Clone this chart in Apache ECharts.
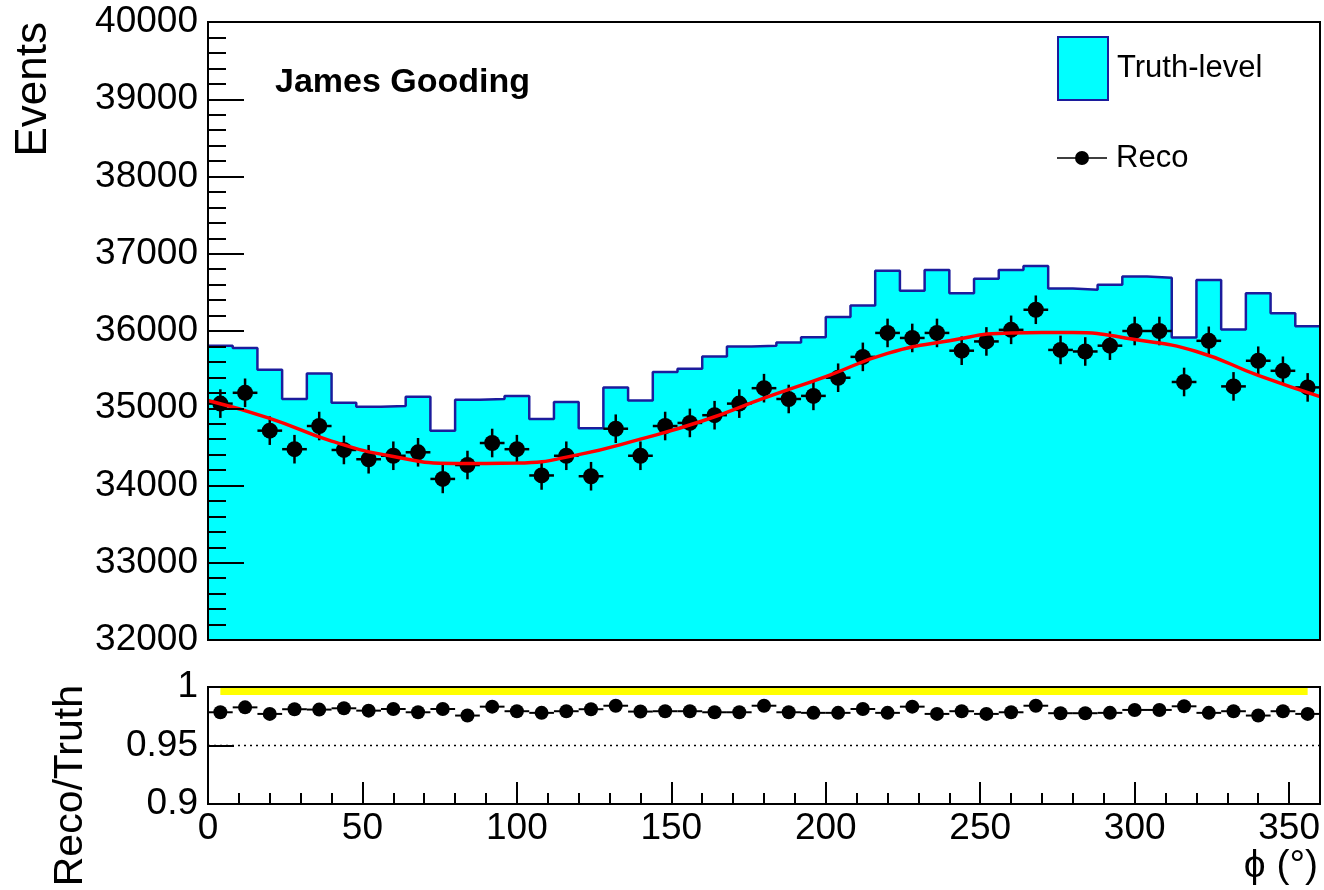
<!DOCTYPE html>
<html>
<head>
<meta charset="utf-8">
<script src="https://cdn.jsdelivr.net/npm/echarts@6/dist/echarts.min.js"></script>
<style>
html,body{margin:0;padding:0;background:#fff;}
#chart{width:1324px;height:890px;}
</style>
</head>
<body>
<div id="chart"></div>
<script>
// ---- data ----
const binCenters = [4,12,20,28,36,44,52,60,68,76,84,92,100,108,116,124,132,140,148,156,164,172,180,188,196,204,212,220,228,236,244,252,260,268,276,284,292,300,308,316,324,332,340,348,356];
const binHalfWidth = 4;
const truthVals = [35810,35780,35500,35120,35450,35070,35020,35030,35150,34710,35110,35120,35160,34860,35080,34740,35270,35100,35470,35510,35670,35800,35810,35850,35920,36180,36330,36780,36520,36790,36490,36675,36790,36840,36550,36535,36600,36705,36690,35915,36660,36020,36490,36230,36060];
const recoVals = [35060,35200,34710,34470,34770,34460,34340,34385,34430,34085,34265,34550,34470,34130,34385,34120,34735,34385,34770,34810,34910,35060,35260,35120,35160,35395,35665,35975,35910,35975,35745,35865,36015,36275,35755,35735,35810,36000,36000,35340,35873,35283,35615,35485,35270];
const recoErr = 185;
const fitPhi = [0,20,40,60,80,100,120,140,160,180,200,220,240,260,280,300,320,340,360];
const fitVals = [35100,34870,34575,34375,34285,34290,34400,34600,34835,35130,35410,35710,35875,35975,35980,35890,35735,35425,35150];
const ratioVals = [0.9784,0.9826,0.9770,0.9810,0.9807,0.9818,0.9798,0.9812,0.9784,0.9812,0.9756,0.9832,0.9793,0.9779,0.9793,0.9810,0.9840,0.9790,0.9793,0.9793,0.9784,0.9784,0.9840,0.9784,0.9779,0.9779,0.9812,0.9779,0.9832,0.9770,0.9793,0.9770,0.9784,0.9840,0.9776,0.9776,0.9779,0.9804,0.9804,0.9835,0.9779,0.9793,0.9756,0.9793,0.9770];
const refBandPhi = [4,356];
const refBandVal = 0.9966;
const refLineVal = 0.95;

// ---- build series data ----
const truthStep = binCenters.map((c,i)=>[c-binHalfWidth, truthVals[i]]);
truthStep.push([binCenters[binCenters.length-1]+binHalfWidth, truthVals[truthVals.length-1]]);
const recoPts = binCenters.map((c,i)=>[c, recoVals[i]]);
const recoErrData = binCenters.map((c,i)=>[c, recoVals[i], recoErr, binHalfWidth]);
const fitData = fitPhi.map((p,i)=>[p, fitVals[i]]);
const ratioPts = binCenters.map((c,i)=>[c, ratioVals[i]]);
const ratioErrData = binCenters.map((c,i)=>[c, ratioVals[i], 0, binHalfWidth]);

const FONT = 'Liberation Sans, Arial, Helvetica, sans-serif';
const BLACK = '#000';

function errRender(lw){
  return function(params, api){
    const x = api.value(0), y = api.value(1), e = api.value(2), hw = api.value(3);
    const c = api.coord([x,y]);
    const l = api.coord([x-hw,y]);
    const r = api.coord([x+hw,y]);
    const children = [{type:'line', shape:{x1:l[0],y1:c[1],x2:r[0],y2:c[1]}, style:{stroke:BLACK,lineWidth:lw}}];
    if (e > 0) {
      const t = api.coord([x,y+e]);
      const b = api.coord([x,y-e]);
      children.push({type:'line', shape:{x1:c[0],y1:t[1],x2:c[0],y2:b[1]}, style:{stroke:BLACK,lineWidth:lw}});
    }
    return {type:'group', children:children};
  };
}

const chart = echarts.init(document.getElementById('chart'), null, {renderer:'canvas'});
const option = {
  animation:false,
  backgroundColor:'#fff',
  textStyle:{fontFamily:FONT},
  grid:[
    {left:208, top:22, width:1112, height:618, show:true, borderColor:BLACK, borderWidth:2, backgroundColor:'transparent', z:10},
    {left:208, top:687, width:1112, height:117, show:true, borderColor:BLACK, borderWidth:2, backgroundColor:'transparent', z:10}
  ],
  xAxis:[
    {gridIndex:0, type:'value', min:0, max:360, interval:50, axisLine:{show:false}, axisTick:{show:false}, axisLabel:{show:false}, splitLine:{show:false}},
    {gridIndex:1, type:'value', min:0, max:360, interval:50, z:10,
     axisLine:{show:false},
     axisTick:{inside:true, length:22, lineStyle:{color:BLACK, width:2}},
     minorTick:{show:true, splitNumber:5, length:11, lineStyle:{color:BLACK, width:2}},
     axisLabel:{fontSize:37, color:BLACK, fontFamily:FONT, margin:6, showMaxLabel:false, formatter:v=>String(v)},
     splitLine:{show:false}}
  ],
  yAxis:[
    {gridIndex:0, type:'value', min:32000, max:40000, interval:1000, z:10,
     axisLine:{show:false},
     axisTick:{inside:true, length:36, lineStyle:{color:BLACK, width:2}},
     minorTick:{show:true, splitNumber:5, length:18, lineStyle:{color:BLACK, width:2}},
     axisLabel:{fontSize:37, color:BLACK, fontFamily:FONT, margin:10, formatter:v=>String(Math.round(v))},
     splitLine:{show:false}},
    {gridIndex:1, type:'value', min:0.9, max:1.0, interval:0.05, z:10,
     axisLine:{show:false},
     axisTick:{inside:true, length:26, lineStyle:{color:BLACK, width:2}},
     axisLabel:{fontSize:37, color:BLACK, fontFamily:FONT, margin:10, formatter:v=>String(+(+v).toFixed(2))},
     splitLine:{show:false}}
  ],
  legend:[
    {left:1052, top:31, orient:'vertical', itemWidth:50, itemHeight:63, selectedMode:false,
     textStyle:{fontSize:31, color:BLACK, fontFamily:FONT, lineHeight:40, padding:[0,0,0,4]},
     data:[{name:'Truth-level', icon:'rect', itemStyle:{color:'#00ffff', borderColor:'#1c1c9c', borderWidth:2}}]},
    {left:1052, top:133, orient:'vertical', itemWidth:50, itemHeight:15, selectedMode:false,
     textStyle:{fontSize:31, color:BLACK, fontFamily:FONT, lineHeight:40, padding:[0,0,0,4]},
     data:[{name:'Reco', icon:'path://M0,6.7L50,6.7L50,8.3L0,8.3Z M18,7.5A7,7,0,1,1,32,7.5A7,7,0,1,1,18,7.5Z', itemStyle:{color:BLACK}}]}
  ],
  series:[
    {name:'Truth-level', type:'line', xAxisIndex:0, yAxisIndex:0, step:'end', data:truthStep, symbol:'none', z:1,
     lineStyle:{color:'#1c1c9c', width:2.5}, itemStyle:{color:'#00ffff'},
     areaStyle:{color:'#00ffff', opacity:1, origin:'start'}},
    {name:'RecoErr', type:'custom', xAxisIndex:0, yAxisIndex:0, data:recoErrData, renderItem:errRender(2.5), z:3, silent:true},
    {name:'Reco', type:'scatter', xAxisIndex:0, yAxisIndex:0, data:recoPts, symbol:'circle', symbolSize:16, itemStyle:{color:BLACK, opacity:1}, z:4},
    {name:'Fit', type:'line', xAxisIndex:0, yAxisIndex:0, data:fitData, smooth:true, symbol:'none', lineStyle:{color:'#ff0000', width:3.5}, z:5},
    {name:'Band', type:'line', xAxisIndex:1, yAxisIndex:1, data:refBandPhi.map(p=>[p, refBandVal]), symbol:'none', lineStyle:{color:'#ffff00', width:8, cap:'butt'}, z:2},
    {name:'Ref095', type:'line', xAxisIndex:1, yAxisIndex:1, data:[[0,refLineVal],[360,refLineVal]], symbol:'none', lineStyle:{color:BLACK, width:1.5, type:[2,4]}, z:2},
    {name:'RatioErr', type:'custom', xAxisIndex:1, yAxisIndex:1, data:ratioErrData, renderItem:errRender(2), z:3, silent:true},
    {name:'Reco/Truth', type:'scatter', xAxisIndex:1, yAxisIndex:1, data:ratioPts, symbol:'circle', symbolSize:14, itemStyle:{color:BLACK, opacity:1}, z:4}
  ],
  graphic:[
    {type:'text', x:34, y:22, rotation:Math.PI/2, style:{text:'Events', fontSize:44, fontFamily:FONT, fill:BLACK, textAlign:'right', textVerticalAlign:'middle', align:'right', verticalAlign:'middle'}},
    {type:'text', x:71, y:685, rotation:Math.PI/2, style:{text:'Reco/Truth', fontSize:41, fontFamily:FONT, fill:BLACK, textAlign:'right', textVerticalAlign:'middle', align:'right', verticalAlign:'middle'}},
    {type:'text', x:1318, y:866, style:{text:'\u03d5 (\u00b0)', fontSize:39, fontFamily:FONT, fill:BLACK, textAlign:'right', textVerticalAlign:'middle', align:'right', verticalAlign:'middle'}},
    {type:'text', x:275, y:83, style:{text:'James Gooding', fontSize:34, fontWeight:'bold', fontFamily:FONT, fill:BLACK, textAlign:'left', textVerticalAlign:'middle', align:'left', verticalAlign:'middle'}}
  ]
};
chart.setOption(option);
</script>
</body>
</html>
